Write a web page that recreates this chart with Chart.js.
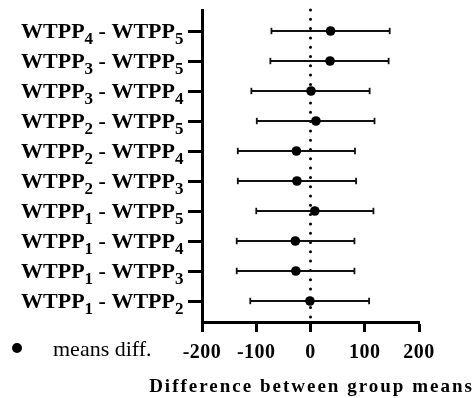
<!DOCTYPE html>
<html><head><meta charset="utf-8">
<script src="https://cdn.jsdelivr.net/npm/chart.js@4/dist/chart.umd.min.js"></script>
<style>html,body{margin:0;padding:0;background:#fff}canvas{display:block}</style>
</head><body>
<canvas id="c" width="476" height="398"></canvas>
<script>
// ---- data (top row first) ----
const categories = [
  'WTPP₄ - WTPP₅',
  'WTPP₃ - WTPP₅',
  'WTPP₃ - WTPP₄',
  'WTPP₂ - WTPP₅',
  'WTPP₂ - WTPP₄',
  'WTPP₂ - WTPP₃',
  'WTPP₁ - WTPP₅',
  'WTPP₁ - WTPP₄',
  'WTPP₁ - WTPP₃',
  'WTPP₁ - WTPP₂'
];
const lowerCI  = [-72, -74, -109, -99, -134, -134, -100, -136, -136, -111];
const meanDiff = [ 37,  36,    1,  10,  -26,  -25,    8,  -28,  -27,   -1];
const upperCI  = [146, 144,  109, 118,   82,   84,  116,   81,   81,  108];
const xTicks = [-200, -100, 0, 100, 200];
const legendLabel = 'means diff.';
const xTitle = 'Difference between group means';

const SERIF = '"Liberation Serif", "Times New Roman", serif';
Chart.defaults.font.family = SERIF;
Chart.defaults.color = '#000';

const rowPos = categories.map((c, i) => i + 1);
const yMin = 0.3, yMax = categories.length + 0.7;

const errorSets = categories.map((c, i) => ({
  label: c,
  data: [{x: lowerCI[i], y: rowPos[i]}, {x: upperCI[i], y: rowPos[i]}],
  borderColor: '#111', borderWidth: 1.8,
  pointStyle: 'line', pointRotation: 90, pointRadius: 3.2, pointHoverRadius: 3.2,
  pointBorderWidth: 1.8, pointBorderColor: '#111',
  order: 1, clip: false
}));

const zeroLine = {
  label: 'zero',
  data: [{x: 0, y: yMin}, {x: 0, y: yMax}],
  borderColor: '#000', borderWidth: 3, borderDash: [0, 9.3], borderCapStyle: 'round',
  pointRadius: 0, order: 2, clip: false
};

const meansSet = {
  label: legendLabel,
  data: meanDiff.map((v, i) => ({x: v, y: rowPos[i]})),
  showLine: false, pointStyle: 'circle', pointRadius: 4.8, pointHoverRadius: 4.8,
  backgroundColor: '#000', borderColor: '#000', pointBorderWidth: 0,
  order: 0, clip: false
};

const SUBMAP = {'₀':'0','₁':'1','₂':'2','₃':'3','₄':'4','₅':'5','₆':'6','₇':'7','₈':'8','₉':'9'};

const spacingPlugin = {
  id: 'spacing',
  beforeDraw(chart) { chart.ctx.letterSpacing = '0.5px'; }
};

const labelPlugin = {
  id: 'richLabels',
  afterDraw(chart) {
    const ctx = chart.ctx;
    const ys = chart.scales.y;
    const xs = chart.scales.x;
    ctx.save();
    ctx.letterSpacing = '0px';
    ctx.fillStyle = '#000';
    ctx.textBaseline = 'alphabetic';
    ctx.textAlign = 'left';
    const mainFont = 'bold 22px ' + SERIF;
    const subFont = 'bold 17px ' + SERIF;
    categories.forEach((lab, i) => {
      const y = ys.getPixelForValue(rowPos[i]);
      const runs = [];
      for (const ch of lab) {
        const sub = SUBMAP[ch] !== undefined;
        const t = sub ? SUBMAP[ch] : ch;
        if (runs.length && runs[runs.length - 1].sub === sub) runs[runs.length - 1].t += t;
        else runs.push({t, sub});
      }
      let total = 0;
      runs.forEach(r => { ctx.font = r.sub ? subFont : mainFont; r.w = ctx.measureText(r.t).width; total += r.w; });
      let x = ys.right - 18.5 - total;
      runs.forEach(r => {
        ctx.font = r.sub ? subFont : mainFont;
        ctx.fillText(r.t, x, y + 7 + (r.sub ? 6 : 0));
        x += r.w;
      });
    });
    // legend
    const ds = chart.data.datasets.find(d => d.label === legendLabel);
    ctx.beginPath();
    ctx.arc(17, 348, 5, 0, Math.PI * 2);
    ctx.fillStyle = ds.backgroundColor;
    ctx.fill();
    ctx.fillStyle = '#000';
    ctx.font = '22px ' + SERIF;
    ctx.fillText(ds.label, 53, 356);
    // x axis title (letter-spaced, not squeezed to axis width)
    ctx.font = 'bold 19px ' + SERIF;
    ctx.letterSpacing = '2px';
    ctx.textAlign = 'center';
    ctx.fillText(xTitle, (xs.left + xs.right) / 2 + 1, 392);
    ctx.restore();
  }
};

new Chart(document.getElementById('c'), {
  type: 'line',
  data: { datasets: [meansSet, ...errorSets, zeroLine] },
  options: {
    responsive: false, animation: false, devicePixelRatio: 1,
    events: [],
    layout: { padding: { top: 10, right: 57, left: 0, bottom: 0 } },
    plugins: { legend: { display: false }, tooltip: { enabled: false } },
    scales: {
      x: {
        type: 'linear', position: 'bottom', min: -200, max: 200,
        afterBuildTicks: s => { s.ticks = xTicks.map(v => ({value: v})); },
        afterFit: s => { s.height = 76; },
        grid: { drawOnChartArea: false, drawTicks: true, tickLength: 10, tickWidth: 3, tickColor: '#000' },
        border: { display: true, width: 3, color: '#000' },
        ticks: { font: { size: 20, weight: 'bold' }, color: '#000', padding: 9, maxRotation: 0 },
        title: { display: false, text: xTitle }
      },
      y: {
        type: 'linear', position: 'left', reverse: true, min: yMin, max: yMax,
        afterBuildTicks: s => { s.ticks = rowPos.map(v => ({value: v})); },
        afterFit: s => { s.width = 202; },
        grid: { drawOnChartArea: false, drawTicks: true, tickLength: 14, tickWidth: 3, tickColor: '#000' },
        border: { display: true, width: 3, color: '#000' },
        ticks: { display: false }
      }
    }
  },
  plugins: [spacingPlugin, labelPlugin]
});
</script>
</body></html>
